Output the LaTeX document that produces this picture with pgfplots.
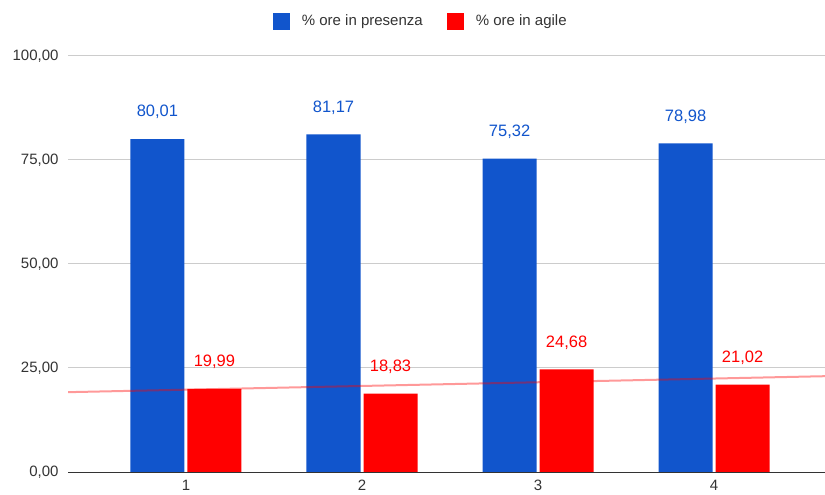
\documentclass[border=0pt]{standalone}
\usepackage{fontspec}
\setmainfont{Liberation Sans}
\usepackage{pgfplots}
\pgfplotsset{compat=1.18}

\definecolor{cblue}{HTML}{1155CC}
\definecolor{cred}{HTML}{FF0000}
\definecolor{cgrid}{HTML}{CCCCCC}
\definecolor{ctext}{HTML}{333333}

\begin{document}
\begin{tikzpicture}
\begin{axis}[
    at={(68bp,23bp)}, anchor=south west,
    scale only axis,
    width=757bp, height=416bp,
    xmin=0.33, xmax=4.63,
    ymin=0, ymax=100,
    ybar=3bp, bar width=54bp,
    xtick={1,2,3,4},
    xticklabels={1,2,3,4},
    ytick={0,25,50,75,100},
    major tick length=0pt,
    ymajorgrids,
    grid style={cgrid, line width=1bp},
    axis x line*=bottom,
    axis y line*=left,
    x axis line style={ctext, line width=1bp},
    y axis line style={draw=none},
    tick label style={font=\fontsize{15bp}{18bp}\selectfont, text=ctext},
    xticklabel style={yshift=-5bp},
    yticklabel style={xshift=-6bp},
    /pgf/number format/.cd, use comma, fixed, fixed zerofill, precision=2, 1000 sep={}, assume math mode=true,
    /pgfplots/.cd,
    legend columns=2,
    legend style={at={(0.466,1.084)}, anchor=center, draw=none, fill=none,
        font=\fontsize{15bp}{18bp}\selectfont, text=ctext,
        /tikz/every odd column/.append style={column sep=10bp},
        /tikz/every even column/.append style={column sep=22bp}},
    legend image code/.code={\fill[#1, draw=none] (0bp,-8.5bp) rectangle (17bp,8.5bp);},
    every node near coord/.append style={font=\fontsize{16.5bp}{19bp}\selectfont, anchor=center, yshift=27bp},
  ]
  \addplot[fill=cblue, draw=none, nodes near coords,
    every node near coord/.append style={text=cblue}] coordinates {
    (1,80.01) (2,81.17) (3,75.32) (4,78.98)
  };
  \addlegendentry{\% ore in presenza}

  \addplot[fill=cred, draw=none, nodes near coords,
    every node near coord/.append style={text=cred}] coordinates {
    (1,19.99) (2,18.83) (3,24.68) (4,21.02)
  };
  \addlegendentry{\% ore in agile}

  % trend line of the red series
  \addplot[sharp plot, forget plot, cred, opacity=0.4, line width=2bp, no marks, bar shift=0pt] coordinates {
    (0.33,19.19) (4.63,23.03)
  };
\end{axis}
\pgfresetboundingbox
\path[use as bounding box] (0,0) rectangle (825bp,495bp);
\end{tikzpicture}
\end{document}
